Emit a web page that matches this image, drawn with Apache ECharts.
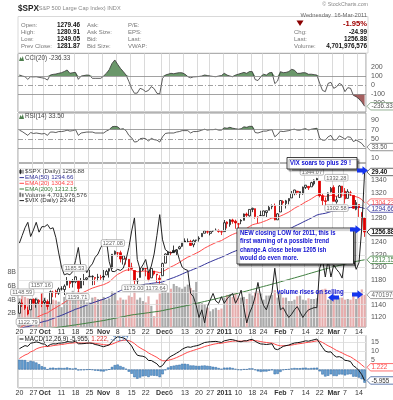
<!DOCTYPE html>
<html><head><meta charset="utf-8">
<script src="https://cdn.jsdelivr.net/npm/echarts@6/dist/echarts.min.js"></script>
<style>html,body{margin:0;padding:0;background:#fff}#c{width:393px;height:400px}</style>
</head><body><div id="c"></div>
<script>
const dates = ["2010-09-20","2010-09-21","2010-09-22","2010-09-23","2010-09-24","2010-09-27","2010-09-28","2010-09-29","2010-09-30",
"2010-10-01","2010-10-04","2010-10-05","2010-10-06","2010-10-07","2010-10-08","2010-10-11","2010-10-12","2010-10-13","2010-10-14","2010-10-15","2010-10-18","2010-10-19","2010-10-20","2010-10-21","2010-10-22","2010-10-25","2010-10-26","2010-10-27","2010-10-28","2010-10-29",
"2010-11-01","2010-11-02","2010-11-03","2010-11-04","2010-11-05","2010-11-08","2010-11-09","2010-11-10","2010-11-11","2010-11-12","2010-11-15","2010-11-16","2010-11-17","2010-11-18","2010-11-19","2010-11-22","2010-11-23","2010-11-24","2010-11-26","2010-11-29","2010-11-30",
"2010-12-01","2010-12-02","2010-12-03","2010-12-06","2010-12-07","2010-12-08","2010-12-09","2010-12-10","2010-12-13","2010-12-14","2010-12-15","2010-12-16","2010-12-17","2010-12-20","2010-12-21","2010-12-22","2010-12-23","2010-12-27","2010-12-28","2010-12-29","2010-12-30","2010-12-31",
"2011-01-03","2011-01-04","2011-01-05","2011-01-06","2011-01-07","2011-01-10","2011-01-11","2011-01-12","2011-01-13","2011-01-14","2011-01-18","2011-01-19","2011-01-20","2011-01-21","2011-01-24","2011-01-25","2011-01-26","2011-01-27","2011-01-28","2011-01-31",
"2011-02-01","2011-02-02","2011-02-03","2011-02-04","2011-02-07","2011-02-08","2011-02-09","2011-02-10","2011-02-11","2011-02-14","2011-02-15","2011-02-16","2011-02-17","2011-02-18","2011-02-22","2011-02-23","2011-02-24","2011-02-25","2011-02-28",
"2011-03-01","2011-03-02","2011-03-03","2011-03-04","2011-03-07","2011-03-08","2011-03-09","2011-03-10","2011-03-11","2011-03-14","2011-03-15","2011-03-16"];
const tickIdx  = [0,5,9,15,20,25,30,35,40,45,51,54,59,64,68,73,78,83,87,93,97,102,107,112,116,121];
const tickText = ["20","27","Oct","11","18","25","Nov","8","15","22","Dec","6","13","20","27","2011","10","18","24","Feb","7","14","22","Mar","7","14"];
const priceGridLines = [1120,1140,1160,1180,1200,1220,1240,1260,1280,1300,1320,1340,1360];

const opens = [1126.1,1142.8,1139.5,1131.1,1131.7,1148.6,1142.3,1146.4,1145.0,
1143.5,1144.9,1140.7,1159.8,1161.6,1158.4,1165.3,1164.3,1171.3,1177.8,1177.5,1176.8,1178.6,1166.7,1179.6,1180.7,1184.7,1184.9,1183.8,1184.5,1183.9,
1185.7,1187.9,1193.8,1198.3,1221.2,1223.2,1223.6,1213.1,1213.0,1213.0,1200.4,1194.8,1178.3,1183.8,1196.1,1198.1,1192.5,1183.1,1194.2,1189.1,1182.6,
1186.6,1206.8,1219.9,1223.9,1227.3,1225.0,1230.1,1233.9,1242.5,1241.8,1241.6,1236.3,1243.6,1245.8,1249.4,1254.9,1257.5,1254.7,1259.1,1259.4,1259.4,1256.8,
1257.6,1272.9,1268.8,1276.3,1274.4,1270.0,1275.6,1275.7,1285.8,1282.9,1293.2,1294.5,1280.9,1283.6,1283.3,1288.2,1291.9,1297.5,1299.6,1276.5,
1289.1,1305.9,1302.8,1307.0,1311.8,1318.8,1322.5,1318.1,1318.7,1328.7,1330.4,1329.6,1334.4,1340.4,1338.9,1315.4,1307.3,1307.3,1321.6,
1328.6,1305.5,1312.4,1330.7,1322.7,1311.1,1319.9,1315.7,1293.4,1301.2,1288.5,1279.5];
const highs = [1144.9,1148.6,1140.5,1136.8,1148.9,1149.9,1150.0,1148.6,1157.2,
1150.3,1148.2,1162.8,1162.3,1163.9,1167.7,1169.6,1172.6,1184.4,1178.9,1181.2,1185.5,1178.6,1182.9,1189.4,1183.9,1196.1,1187.1,1183.8,1189.5,1187.9,
1195.8,1196.1,1198.3,1221.3,1227.1,1224.6,1226.8,1218.8,1215.5,1213.0,1207.4,1194.8,1182.5,1198.7,1200.0,1198.9,1192.5,1198.9,1194.2,1189.1,1187.4,
1207.6,1222.5,1225.6,1225.7,1235.1,1228.9,1234.6,1240.4,1246.7,1246.5,1244.3,1245.0,1244.3,1250.0,1255.0,1259.4,1260.0,1258.6,1260.0,1262.6,1261.1,1260.0,
1276.2,1274.1,1277.6,1278.2,1276.8,1271.5,1277.6,1286.6,1288.2,1293.3,1296.1,1294.6,1282.2,1291.2,1291.3,1291.3,1299.7,1301.3,1302.7,1287.2,
1308.0,1308.0,1308.6,1311.0,1322.9,1324.9,1323.3,1322.0,1330.0,1332.6,1330.4,1337.8,1341.5,1344.1,1338.9,1318.8,1312.4,1320.6,1329.4,
1332.1,1314.4,1332.3,1331.1,1327.7,1325.8,1323.2,1315.7,1308.4,1301.2,1288.5,1280.9];
const lows = [1126.1,1136.2,1131.6,1122.8,1131.7,1141.7,1135.1,1140.6,1136.1,
1139.4,1131.9,1140.7,1152.0,1151.4,1155.7,1162.9,1155.5,1171.3,1166.7,1167.6,1174.6,1159.7,1166.7,1171.2,1178.4,1184.7,1171.2,1171.6,1177.7,1179.8,
1177.7,1187.9,1183.6,1198.3,1220.3,1217.1,1208.0,1204.5,1204.5,1194.1,1196.8,1173.0,1173.2,1183.8,1194.1,1185.6,1177.7,1183.1,1186.9,1175.7,1173.6,
1186.6,1206.8,1219.5,1218.8,1223.2,1219.3,1228.8,1232.6,1240.2,1239.7,1234.6,1232.4,1239.2,1241.5,1249.4,1254.9,1254.2,1251.5,1256.8,1258.5,1255.8,1252.0,
1257.6,1262.7,1265.4,1270.3,1262.2,1262.6,1269.6,1275.7,1281.0,1281.8,1288.9,1278.3,1271.3,1283.1,1283.3,1281.1,1291.9,1293.6,1275.9,1276.5,
1289.1,1301.0,1294.8,1301.4,1311.8,1316.1,1317.0,1311.6,1316.8,1326.1,1324.6,1329.6,1331.6,1338.9,1312.7,1299.6,1294.3,1307.3,1320.6,
1306.3,1302.6,1312.4,1312.6,1302.8,1310.8,1314.8,1294.3,1291.9,1281.2,1261.1,1249.1];
const closes = [1142.71,1139.78,1134.28,1124.83,1148.67,1142.16,1147.70,1144.73,1141.20,
1146.24,1137.03,1160.75,1159.97,1158.06,1165.15,1165.32,1169.77,1178.10,1173.81,1176.19,1184.71,1165.90,1178.17,1180.26,1183.08,1185.62,1185.64,1182.45,1183.78,1183.26,
1184.38,1193.57,1197.96,1221.06,1225.85,1223.25,1213.40,1218.71,1213.54,1199.21,1197.75,1178.34,1178.59,1196.69,1199.73,1197.84,1180.73,1198.35,1189.40,1187.76,1180.55,
1206.07,1221.53,1224.71,1223.12,1223.75,1228.28,1233.00,1240.40,1240.46,1241.59,1235.23,1242.87,1243.91,1247.08,1254.60,1258.84,1256.77,1257.54,1258.51,1259.78,1257.88,1257.64,
1271.87,1270.20,1276.56,1273.85,1271.50,1269.75,1274.48,1285.96,1283.76,1293.24,1295.02,1281.92,1280.26,1283.35,1290.84,1291.18,1296.63,1299.54,1276.34,1286.12,
1307.59,1304.03,1307.10,1310.87,1319.05,1324.57,1320.88,1321.87,1329.15,1332.32,1328.01,1336.32,1340.43,1343.01,1315.44,1307.40,1306.10,1319.88,1327.22,
1306.33,1308.44,1330.97,1321.15,1310.13,1321.82,1320.02,1295.11,1304.28,1296.39,1281.87,1256.88];
const prevCloseBefore = 1125.59;
const volumeB = [4.2,4.6,4.4,4.2,4.0,3.4,4.3,4.0,5.0,
4.3,3.6,4.1,4.0,3.9,3.7,2.9,4.4,5.0,4.8,5.3,4.5,5.3,4.9,4.5,3.6,3.6,4.3,4.4,4.1,4.1,
4.4,4.0,4.2,5.2,5.0,3.9,4.3,4.0,4.0,4.6,4.4,5.4,4.0,4.3,3.8,3.6,4.5,3.1,1.6,4.0,4.9,
6.4,5.8,5.0,5.6,6.3,6.0,5.8,5.6,5.9,6.2,5.7,5.4,6.6,3.6,3.5,3.3,2.8,2.3,2.6,2.8,2.5,2.7,
4.3,4.7,4.8,4.4,4.9,4.3,4.3,4.4,4.1,4.9,4.6,5.1,5.2,4.9,4.0,4.6,4.6,4.7,5.4,4.3,
5.0,4.3,4.3,3.8,3.8,4.0,4.5,4.6,4.0,3.9,4.2,4.1,4.1,4.2,5.3,5.5,5.6,4.0,4.3,
4.7,4.5,4.3,4.3,4.0,4.1,4.0,4.7,4.1,4.3,5.5,4.7];
const vix = [22.9,23.6,24.3,24.8,23.5,24.1,24.8,23.9,24.4,
24.4,24.6,24.2,24.3,23.4,22.0,20.7,20.0,20.1,20.0,20.3,21.3,22.5,20.6,20.8,20.2,20.7,21.0,21.6,21.9,22.5,
22.9,23.2,21.2,20.3,20.3,20.5,20.4,20.6,21.4,22.5,24.0,25.2,21.4,20.5,20.9,21.4,20.2,20.8,21.9,23.6,25.5,
23.2,22.3,22.1,22.0,22.1,22.3,21.4,20.7,20.5,20.4,18.3,18.0,17.2,16.1,16.8,15.6,17.1,17.7,18.3,17.6,17.4,18.0,
17.4,17.8,18.1,18.3,17.4,17.9,18.6,17.0,15.6,16.5,17.1,18.0,19.3,18.0,17.2,16.8,17.6,18.4,20.6,18.6,
16.8,17.0,16.5,16.1,16.4,16.8,17.1,16.6,16.1,16.5,16.8,16.9,17.0,17.0,20.6,21.4,19.8,21.4,19.8,
20.9,20.5,20.2,19.7,21.6,21.1,21.5,21.4,20.5,21.1,24.3,29.4];
const ema20 = [1101.4,1105.1,1107.9,1109.5,1113.2,1116.0,1119.0,1121.4,1123.3,
1125.5,1126.6,1129.8,1132.7,1135.1,1138.0,1140.6,1143.3,1146.7,1149.2,1151.8,1154.9,1156.0,1158.1,1160.2,1162.4,1164.6,1166.6,1168.1,1169.6,1170.9,
1172.2,1174.2,1176.5,1180.7,1185.0,1188.7,1191.0,1193.6,1195.5,1195.9,1196.1,1194.4,1192.9,1193.2,1193.9,1194.2,1192.9,1193.5,1193.1,1192.6,1191.4,
1192.8,1195.5,1198.3,1200.7,1202.9,1205.3,1207.9,1211.0,1213.8,1216.5,1218.3,1220.6,1222.8,1225.1,1227.9,1230.9,1233.3,1235.6,1237.8,1239.9,1241.6,1243.1,
1245.9,1248.2,1250.9,1253.1,1254.8,1256.2,1258.0,1260.6,1262.8,1265.7,1268.5,1269.8,1270.8,1272.0,1273.8,1275.4,1277.5,1279.6,1279.3,1279.9,
1282.6,1284.6,1286.8,1289.0,1291.9,1295.0,1297.5,1299.8,1302.6,1305.4,1307.6,1310.3,1313.2,1316.0,1316.0,1315.2,1314.3,1314.8,1316.0,
1315.1,1314.5,1316.0,1316.5,1315.9,1316.5,1316.8,1314.7,1313.7,1312.1,1309.2,1304.23];
const ema50 = [1101.0,1102.5,1103.8,1104.6,1106.3,1107.7,1109.3,1110.7,1111.9,
1113.2,1114.1,1116.0,1117.7,1119.3,1121.1,1122.8,1124.6,1126.7,1128.6,1130.5,1132.6,1133.9,1135.6,1137.4,1139.2,1141.0,1142.7,1144.3,1145.8,1147.3,
1148.7,1150.5,1152.4,1155.1,1157.8,1160.4,1162.5,1164.7,1166.6,1167.9,1169.0,1169.4,1169.8,1170.8,1172.0,1173.0,1173.3,1174.2,1174.8,1175.3,1175.5,
1176.7,1178.5,1180.3,1182.0,1183.6,1185.4,1187.2,1189.3,1191.3,1193.3,1194.9,1196.8,1198.6,1200.5,1202.6,1204.8,1206.9,1208.9,1210.8,1212.7,1214.5,1216.2,
1218.4,1220.4,1222.6,1224.6,1226.4,1228.1,1229.9,1232.1,1234.1,1236.5,1238.7,1240.4,1242.0,1243.6,1245.5,1247.3,1249.2,1251.2,1252.2,1253.5,
1255.6,1257.5,1259.5,1261.5,1263.7,1266.1,1268.3,1270.4,1272.7,1275.0,1277.1,1279.4,1281.8,1284.2,1285.4,1286.3,1287.0,1288.3,1289.8,
1290.5,1291.2,1292.7,1293.8,1294.5,1295.6,1296.5,1296.5,1296.8,1296.8,1296.2,1294.66];
const ema200 = [1097.0,1097.4,1097.8,1098.2,1098.6,1099.0,1099.4,1099.8,1100.2,
1100.6,1101.0,1101.6,1102.3,1102.9,1103.6,1104.2,1104.8,1105.5,1106.1,1106.8,1107.4,1108.1,1108.8,1109.5,1110.2,1110.9,1111.6,1112.3,1113.0,1113.7,
1114.4,1115.3,1116.2,1117.1,1118.0,1118.9,1119.8,1120.7,1121.6,1122.5,1123.4,1124.0,1124.6,1125.2,1125.8,1126.4,1127.0,1127.7,1128.3,1128.9,1129.5,
1130.4,1131.4,1132.3,1133.2,1134.1,1135.1,1136.0,1136.9,1137.8,1138.8,1139.8,1140.9,1141.9,1143.0,1144.1,1145.1,1146.2,1147.2,1148.3,1149.4,1150.5,1151.7,
1152.8,1154.0,1155.1,1156.2,1157.4,1158.5,1159.7,1160.8,1162.0,1163.2,1164.4,1165.6,1166.9,1168.1,1169.3,1170.5,1171.7,1172.9,1174.2,1175.4,
1176.7,1178.0,1179.2,1180.5,1181.8,1183.0,1184.3,1185.6,1186.9,1188.2,1189.6,1190.9,1192.2,1193.5,1194.8,1196.2,1197.5,1198.8,1199.9,
1201.0,1202.0,1203.1,1204.2,1205.3,1206.4,1207.4,1208.5,1209.6,1210.5,1211.4,1212.15];
const cci = [111,100,92,63,92,90,92,85,80,
74,55,111,118,122,130,137,150,167,130,137,140,63,100,105,111,108,74,74,74,74,
100,130,170,240,278,230,185,150,111,40,-40,-92,-90,-37,-50,-74,-60,-18,-40,-92,-100,
74,111,120,130,125,132,137,135,120,92,80,90,92,95,100,111,105,100,95,92,100,105,
130,110,100,92,110,120,130,140,130,150,148,60,50,90,120,110,135,140,15,45,
148,137,140,150,174,165,130,130,137,135,119,120,115,111,18,-60,-74,18,30,
-37,-20,18,0,-74,-30,-37,-115,-130,-155,-190,-236.33];
const rsi = [69,66,62,58,64,62,63,62,61,
62,58,65,65,64,66,66,67,69,67,68,70,58,63,64,65,65,65,63,63,63,
63,67,70,76,77,76,71,72,68,58,53,44,45,51,52,51,46,52,49,48,44,
55,62,63,63,63,65,66,68,68,68,63,66,66,67,69,71,69,70,70,71,69,69,
74,73,75,73,72,71,72,76,75,77,77,64,63,65,67,67,69,70,55,60,
67,66,67,68,70,71,69,69,71,72,69,71,72,73,52,48,48,55,58,
48,49,57,54,50,55,54,45,48,45,41,33.5];
const macd = [11.3,12.2,13.0,12.6,14.3,14.6,15.0,14.7,14.0,
13.8,12.6,13.6,14.0,13.9,14.3,14.4,14.6,15.2,15.0,14.9,15.4,14.0,14.0,14.1,14.3,14.4,14.2,13.6,13.3,12.8,
12.4,12.9,13.4,15.2,16.8,17.8,17.5,17.2,16.4,14.5,12.8,9.9,7.8,7.4,7.2,6.6,4.9,4.9,4.0,3.1,1.3,
2.2,4.3,6.1,7.2,8.0,8.9,9.8,11.0,11.8,12.3,12.1,12.6,12.9,13.3,14.0,14.7,14.9,15.1,15.2,15.3,15.0,14.7,
15.6,15.9,16.3,16.2,15.8,15.3,15.1,15.6,15.6,16.2,16.4,15.4,14.5,13.9,13.8,13.6,13.8,14.0,11.2,10.8,
11.6,12.6,13.0,13.3,13.9,14.4,14.6,14.8,15.2,15.6,15.4,15.8,16.2,16.6,14.4,12.0,10.0,9.5,9.6,
7.8,6.8,7.0,6.3,5.0,4.8,4.3,2.0,1.0,-0.6,-2.8,-5.955];
const signal = [6.0,7.0,7.9,8.5,9.6,10.2,11.2,11.8,12.2,
12.5,12.5,12.7,13.0,13.2,13.4,13.6,13.8,14.1,14.3,14.4,14.6,14.5,14.4,14.4,14.4,14.4,14.4,14.2,14.0,13.8,
13.5,13.4,13.4,13.8,14.4,15.1,15.6,15.9,16.0,15.7,15.1,14.1,12.8,11.8,10.9,10.1,9.0,8.2,7.4,6.6,5.5,
4.8,4.7,5.0,5.4,5.9,6.5,7.2,7.9,8.7,9.4,9.9,10.4,10.9,11.4,11.9,12.5,12.9,13.3,13.7,14.0,14.2,14.3,
14.6,14.9,15.2,15.4,15.5,15.5,15.4,15.5,15.5,15.6,15.8,15.7,15.5,15.2,14.9,14.7,14.5,14.4,13.8,13.2,
12.9,12.9,13.0,13.1,13.3,13.6,13.9,14.1,14.3,14.6,14.8,15.0,15.3,15.6,15.4,14.7,13.8,12.9,12.2,
11.3,10.4,9.7,9.0,8.2,7.5,6.9,5.9,4.9,3.8,2.5,1.222];
const hist = [5.3,5.2,5.1,4.1,4.7,4.4,3.8,2.9,1.8,
1.3,0.1,0.9,1.0,0.7,0.9,0.8,0.8,1.1,0.7,0.5,0.8,-0.5,-0.4,-0.3,-0.1,0.0,-0.2,-0.6,-0.7,-1.0,
-1.1,-0.5,0.0,1.4,2.4,2.7,1.9,1.3,0.4,-1.2,-2.3,-4.2,-5.0,-4.4,-3.7,-3.5,-4.1,-3.3,-3.4,-3.5,-4.2,
-2.6,-0.4,1.1,1.8,2.1,2.4,2.6,3.1,3.1,2.9,2.2,2.2,2.0,1.9,2.1,2.2,2.0,1.8,1.5,1.3,0.8,0.4,
1.0,1.0,1.1,0.8,0.3,-0.2,-0.3,0.1,0.1,0.6,0.6,-0.3,-1.0,-1.3,-1.1,-1.1,-0.7,-0.4,-2.6,-2.4,
-1.3,-0.3,0.0,0.2,0.6,0.8,0.7,0.7,0.9,1.0,0.6,0.8,0.9,1.0,-1.0,-2.7,-3.8,-3.4,-2.6,
-3.5,-3.6,-2.7,-2.7,-3.2,-2.7,-2.6,-3.9,-3.9,-4.4,-5.3,-7.177];

// ---------------- chart ----------------
const FF = '"Liberation Sans", Arial, sans-serif';
const chart = echarts.init(document.getElementById('c'));
const tickSet = new Set(tickIdx);
const tickFn = (i) => tickSet.has(i);
function tickLabel(i) {
  const k = tickIdx.indexOf(i); if (k < 0) return '';
  const t = tickText[k];
  return (isNaN(+t) || t === '2011') ? '{b|' + t + '}' : t;
}
const LEFT = 18, RIGHT = 27;
function xAx(g, show) {
  return { type: 'category', gridIndex: g, data: dates, boundaryGap: true,
    axisLine: { show: false }, axisTick: { show: false, alignWithLabel: true, interval: tickFn },
    axisLabel: { show: show, interval: tickFn, formatter: (v, i) => tickLabel(i), fontSize: 7, color: '#333', margin: 2, fontFamily: FF,
      rich: { b: { fontWeight: 'bold', fontSize: 7, color: '#333', fontFamily: FF } } },
    splitLine: { show: true, interval: tickFn, lineStyle: { color: '#dadada', width: 1 } } };
}
const yLab = (fn) => ({ fontSize: 7, color: '#555', margin: 5, fontFamily: FF, formatter: fn });
const gridBase = { left: LEFT, right: RIGHT, show: true, borderColor: '#9a9a9a', borderWidth: 1 };
const ml = (vals, type, color) => vals.map(v => ({ yAxis: v, lineStyle: { type: type, color: color, width: 0.8 } }));

const candleData = closes.map((c, i) => {
  const o = opens[i], pc = i ? closes[i - 1] : prevCloseBefore;
  const col = c >= pc ? '#111111' : '#e00000';
  const fill = c < o ? col : '#ffffff';
  return { value: [o, c, lows[i], highs[i]], itemStyle: { color: fill, color0: fill, borderColor: col, borderColor0: col, borderWidth: 0.8 } };
});
const volData = volumeB.map((v, i) => {
  const pc = i ? closes[i - 1] : prevCloseBefore;
  return { value: v, itemStyle: { color: closes[i] >= pc ? '#ababab' : '#e7adad' } };
});

const option = {
  animation: false, backgroundColor: '#fff',
  grid: [
    Object.assign({ top: 53.5, height: 58.5 }, gridBase),
    Object.assign({ top: 113, height: 50 }, gridBase),
    Object.assign({ top: 163, height: 164 }, gridBase),
    Object.assign({ top: 335.5, height: 52.4 }, gridBase)
  ],
  xAxis: [xAx(0, false), xAx(1, false), xAx(2, true), xAx(3, true)],
  yAxis: [
    { type: 'value', gridIndex: 0, position: 'right', min: -300, max: 350, interval: 100,
      axisLabel: yLab(v => (Math.abs(v) <= 200 ? String(v) : '')), splitLine: { show: false }, axisLine: { show: false }, axisTick: { show: false } },
    { type: 'value', gridIndex: 1, position: 'right', min: 0, max: 105, interval: 10,
      axisLabel: yLab(v => ([10, 30, 50, 70, 90].includes(v) ? String(v) : '')), splitLine: { show: false }, axisLine: { show: false }, axisTick: { show: false } },
    { type: 'value', gridIndex: 2, position: 'right', min: 1104, max: 1368, interval: 4,
      axisLabel: yLab(v => (v % 20 === 0 && v >= 1120 && v <= 1340 && ![1300, 1260, 1160].includes(v) ? String(v) : '')),
      splitLine: { show: false }, axisLine: { show: false }, axisTick: { show: false } },
    { type: 'value', gridIndex: 2, position: 'left', min: 0, max: 24, interval: 2,
      axisLabel: Object.assign(yLab(v => ([2, 4, 6, 8].includes(v) ? v + 'B' : '')), { margin: 2 }), splitLine: { show: false }, axisLine: { show: false }, axisTick: { show: false } },
    { type: 'value', gridIndex: 2, show: false, min: 15.23, max: 30.22 },
    { type: 'value', gridIndex: 3, position: 'right', min: -10, max: 18.5, interval: 5,
      axisLabel: yLab(v => ([5, 10, 15].includes(v) ? String(v) : '')),
      splitLine: { show: true, lineStyle: { color: '#e2e2e2', width: 1 } }, axisLine: { show: false }, axisTick: { show: false } }
  ],
  series: [
    // CCI
    { type: 'line', xAxisIndex: 0, yAxisIndex: 0, data: cci.map(v => Math.max(v, 100)), symbol: 'none', silent: true,
      lineStyle: { width: 0 }, areaStyle: { origin: 100, color: '#6a976a', opacity: 1 }, z: 2 },
    { type: 'line', xAxisIndex: 0, yAxisIndex: 0, data: cci.map(v => Math.min(v, -100)), symbol: 'none', silent: true,
      lineStyle: { width: 0 }, areaStyle: { origin: -100, color: '#a45f5f', opacity: 1 }, z: 2 },
    { type: 'line', xAxisIndex: 0, yAxisIndex: 0, data: cci, symbol: 'none', lineStyle: { color: '#333', width: 0.8 }, z: 4,
      markLine: { silent: true, symbol: 'none', label: { show: false },
        data: ml([100, -100], 'solid', '#8a8a8a').concat(ml([0], [5, 2, 1, 2], '#8a8a8a')) } },
    // RSI
    { type: 'line', xAxisIndex: 1, yAxisIndex: 1, data: rsi.map(v => Math.max(v, 70)), symbol: 'none', silent: true,
      lineStyle: { width: 0 }, areaStyle: { origin: 70, color: '#6a976a', opacity: 1 }, z: 2 },
    { type: 'line', xAxisIndex: 1, yAxisIndex: 1, data: rsi, symbol: 'none', lineStyle: { color: '#333', width: 0.8 }, z: 4,
      markLine: { silent: true, symbol: 'none', label: { show: false },
        data: ml([70, 30], 'solid', '#8a8a8a').concat(ml([50], [5, 2, 1, 2], '#8a8a8a')) } },
    // price grid lines
    { type: 'line', xAxisIndex: 2, yAxisIndex: 2, data: [], symbol: 'none', z: 0, silent: true,
      markLine: { silent: true, symbol: 'none', label: { show: false }, data: ml(priceGridLines, 'solid', '#e0e0e0') } },
    // Volume
    { type: 'bar', xAxisIndex: 2, yAxisIndex: 3, data: volData, barCategoryGap: '22%', z: 1 },
    // EMAs
    { type: 'line', xAxisIndex: 2, yAxisIndex: 2, data: ema200, symbol: 'none', lineStyle: { color: '#3f7f3f', width: 1 }, z: 3 },
    { type: 'line', xAxisIndex: 2, yAxisIndex: 2, data: ema50, symbol: 'none', lineStyle: { color: '#34349a', width: 1 }, z: 3 },
    { type: 'line', xAxisIndex: 2, yAxisIndex: 2, data: ema20, symbol: 'none', lineStyle: { color: '#ff4a4a', width: 1 }, z: 3 },
    // Candles
    { type: 'candlestick', xAxisIndex: 2, yAxisIndex: 2, data: candleData, barWidth: '72%', z: 4 },
    // VIX
    { type: 'line', xAxisIndex: 2, yAxisIndex: 4, data: vix, symbol: 'none', lineStyle: { color: '#222', width: 1 }, z: 5 },
    // MACD
    { type: 'bar', xAxisIndex: 3, yAxisIndex: 5, data: hist, barCategoryGap: '12%',
      itemStyle: { color: '#6aa3d4', borderColor: '#2a64a0', borderWidth: 0.5 }, z: 2 },
    { type: 'line', xAxisIndex: 3, yAxisIndex: 5, data: signal, symbol: 'none', lineStyle: { color: '#ff4a4a', width: 1 }, z: 3 },
    { type: 'line', xAxisIndex: 3, yAxisIndex: 5, data: macd, symbol: 'none', lineStyle: { color: '#111', width: 1 }, z: 4 }
  ]
};
chart.setOption(option);

// ---------------- annotations ----------------
const G = [];
function font(px, bold) { return (bold ? 'bold ' : '') + px + 'px ' + FF; }
function txt(x, y, text, o) {
  o = o || {};
  const st = { text: text, x: 0, y: 0, fill: o.fill || '#555', font: o.font || font(6.5),
    textAlign: o.align || 'left', textVerticalAlign: 'middle', align: o.align || 'left', verticalAlign: 'middle' };
  if (o.rich) st.rich = o.rich;
  G.push({ type: 'text', x: x, y: y, scaleX: o.sx || 1, z: 110, silent: true, style: st });
}
function rect(x, y, w, h, fill, stroke, lw, z, shadow) {
  const s = { fill: fill, stroke: stroke, lineWidth: lw || 1 };
  if (shadow) { s.shadowColor = 'rgba(0,0,0,0.45)'; s.shadowOffsetX = 2; s.shadowOffsetY = 2; s.shadowBlur = 1; }
  G.push({ type: 'rect', z: z || 105, silent: true, shape: { x: x, y: y, width: w, height: h }, style: s });
}
function line(x1, y1, x2, y2, color, w) {
  G.push({ type: 'line', z: 106, silent: true, shape: { x1: x1, y1: y1, x2: x2, y2: y2 }, style: { stroke: color, lineWidth: w || 1 } });
}
function tag(y, text, stroke, color, bold) {
  const x0 = 367, h = 7.4, w = 27;
  G.push({ type: 'polygon', z: 107, silent: true,
    shape: { points: [[x0, y], [x0 + 3.5, y - h / 2], [x0 + w, y - h / 2], [x0 + w, y + h / 2], [x0 + 3.5, y + h / 2]] },
    style: { fill: '#fff', stroke: stroke, lineWidth: 0.8 } });
  txt(x0 + 4.5, y + 0.3, text, { fill: color, font: font(6.3, bold) });
}
function vbox(cx, cy, text) {
  const w = text.length * 3.05 + 2, h = 6.6;
  G.push({ type: 'rect', z: 107, silent: true, shape: { x: cx - w / 2, y: cy - h / 2, width: w, height: h, r: 1.5 },
    style: { fill: '#fff', stroke: '#9a9a9a', lineWidth: 0.7 } });
  txt(cx, cy + 0.3, text, { fill: '#666', font: font(5.6), align: 'center' });
}
function arrow(xTip, y, dir) {
  const d = dir, L = 11, hw = 4.2, sw = 1.9, hl = 5.5;
  const p = [[0, -sw], [L - hl, -sw], [L - hl, -hw], [L, 0], [L - hl, hw], [L - hl, sw], [0, sw]]
    .map(q => [xTip - d * (L - q[0]), y + q[1]]);
  G.push({ type: 'polygon', z: 112, silent: true, shape: { points: p }, style: { fill: '#1535ee' } });
}
const px = (xi, yi, i, v) => chart.convertToPixel({ xAxisIndex: xi, yAxisIndex: yi }, [i, v]);
const yOf = (yi, v) => chart.convertToPixel({ yAxisIndex: yi }, v);

// header
txt(18, 8.5, '$SPX', { fill: '#222', font: font(8.2, true) });
txt(37, 8.8, '(S&P 500 Large Cap Index) INDX', { fill: '#888', font: font(5.6) });
txt(368, 4.5, '\u00A9 StockCharts.com', { fill: '#888', font: font(5.3), align: 'right' });
rect(18, 16.5, 350, 36.5, 'rgba(0,0,0,0)', '#cfcfcf', 0.8, 100);
const rowsY = [25, 32.2, 39.4, 46.6];
['Open:', 'High:', 'Low:', 'Prev Close:'].forEach((t, k) => txt(21, rowsY[k], t, { fill: '#777', font: font(6) }));
['1279.46', '1280.91', '1249.05', '1281.87'].forEach((t, k) => txt(80, rowsY[k], t, { fill: '#111', font: font(6.4, true), align: 'right' }));
['Ask:', 'Ask Size:', 'Bid:', 'Bid Size:'].forEach((t, k) => txt(87, rowsY[k], t, { fill: '#777', font: font(6) }));
['P/E:', 'EPS:', 'Last:', 'VWAP:'].forEach((t, k) => txt(128, rowsY[k], t, { fill: '#777', font: font(6) }));
txt(367, 15, 'Wednesday  16-Mar-2011', { fill: '#666', font: font(5.8), align: 'right' });
G.push({ type: 'polygon', z: 110, silent: true, shape: { points: [[296.5, 20.5], [303.5, 20.5], [300, 26]] }, style: { fill: '#8b0000' } });
txt(367, 23.5, '-1.95%', { fill: '#a00000', font: font(7.6, true), align: 'right' });
txt(294, 32.2, 'Chg:', { fill: '#777', font: font(6) });
txt(367, 32.2, '-24.99', { fill: '#111', font: font(6.4, true), align: 'right' });
txt(294, 39.4, 'Last:', { fill: '#777', font: font(6) });
txt(367, 39.4, '1256.88', { fill: '#111', font: font(6.4, true), align: 'right' });
txt(294, 46.6, 'Volume:', { fill: '#777', font: font(6) });
txt(367, 46.6, '4,701,976,576', { fill: '#111', font: font(6.4, true), align: 'right' });

// panel titles
function mountain(x, y) {
  G.push({ type: 'polygon', z: 110, silent: true, shape: { points: [[x, y + 2.5], [x + 1.5, y - 1.5], [x + 2.7, y + 0.5], [x + 3.8, y - 2.5], [x + 5, y + 2.5]] }, style: { fill: '#4f7f4f' } });
}
mountain(19, 58.5); txt(25, 58.5, 'CCI(20) -236.33', { fill: '#444', font: font(6.3) });
mountain(19, 116.5); txt(25, 116.5, 'RSI(14) 33.50', { fill: '#444', font: font(6.3) });
line(19.5, 339, 23.5, 339, '#111', 1);
txt(24.5, 339, '{k|MACD(12,26,9) -5.955, }{r|1.222, }{b|-7.177}', { font: font(6.3),
  rich: { k: { fill: '#222', font: font(6.3) }, r: { fill: '#e03030', font: font(6.3) }, b: { fill: '#3a6fb0', font: font(6.3) } } });

// main legend
const lg = [
  [171.7, '$SPX (Daily) 1256.88', '#444', 'candle'],
  [177.6, 'EMA(50) 1294.66', '#34349a', '#34349a'],
  [183.3, 'EMA(20) 1304.23', '#ff4a4a', '#ff4a4a'],
  [189.0, 'EMA(200) 1212.15', '#3f7f3f', '#3f7f3f'],
  [194.8, 'Volume 4,701,976,576', '#444', 'vol'],
  [200.6, '$VIX (Daily) 29.40', '#333', '#222']
];
lg.forEach(r => {
  if (r[3] === 'candle') { line(20.5, r[0] - 2.5, 20.5, r[0] + 2.5, '#222', 0.8); rect(19.7, r[0] - 1.5, 1.6, 3, '#222', '#222', 0.5, 108); line(23, r[0] - 2, 23, r[0] + 2, '#222', 0.8); }
  else if (r[3] === 'vol') { rect(19.5, r[0] - 2, 1.5, 4, '#777', '#777', 0.3, 108); rect(22, r[0] - 1, 1.5, 3, '#777', '#777', 0.3, 108); }
  else line(19.5, r[0], 24, r[0], r[3], 1);
  txt(25, r[0], r[1], { fill: r[2], font: font(6.2) });
});

// data labels
[[1, 1148.6, '1148.59', 0, -7], [3, 1122.8, '1122.79', 0, 6.5], [8, 1157.2, '1157.16', -1, -8.5], [20, 1185.5, '1185.53', -1, -8.5],
 [21, 1159.7, '1159.71', -1, 4.5], [34, 1227.1, '1227.08', -2, -7.5], [41, 1173.0, '1173.00', -1, 4], [50, 1173.64, '1173.64', -4, 4],
 [106, 1344.07, '1344.07', -5, -6], [114, 1332.28, '1332.28', -3, -7.5], [113, 1302.58, '1302.58', 0, 4.5]]
 .forEach(a => { const p = px(2, 2, a[0], a[1]); vbox(p[0] + a[3], p[1] + a[4], a[2]); });

// right-side tags
tag(yOf(0, -236.33), '-236.33', '#7a9a7a', '#555');
tag(yOf(1, 33.5), '33.50', '#777', '#555');
tag(yOf(4, 29.4), '29.40', '#444', '#111', true);
tag(yOf(2, 1304.23), '1304.23', '#ff4a4a', '#ff4a4a');
tag(yOf(2, 1294.66), '1294.66', '#34349a', '#34349a');
tag(yOf(2, 1256.88), '1256.88', '#111', '#111', true);
tag(yOf(2, 1212.15), '1212.15', '#3f7f3f', '#3f7f3f');
tag(yOf(3, 4.70), '4701976576', '#888', '#666');
tag(yOf(5, 1.222), '1.222', '#ff4a4a', '#ff4a4a');
tag(yOf(5, -5.955), '-5.955', '#3a5a9a', '#333');

// annotation boxes
rect(287, 157.5, 70, 11.5, '#fff', '#111', 0.8, 109, true);
txt(290, 163.4, 'VIX soars to plus 29 !', { fill: '#1010d0', font: font(7, true), sx: 0.86 });
arrow(368, 170.5, 1);

rect(237, 228, 116.5, 36, '#fff', '#111', 0.8, 109, true);
['NEW closing LOW for 2011, this is', 'first warning of a possible trend', 'change.A close below 1205 ish', 'would do even more.']
  .forEach((t, k) => txt(240, 233 + k * 8.5, t, { fill: '#1010d0', font: font(7, true), sx: 0.84 }));
arrow(361, 229.5, 1);

txt(277, 292.5, 'volume rises on selling', { fill: '#1010d0', font: font(7, true), sx: 0.86 });
arrow(328, 297.5, -1);
arrow(363, 294.5, 1);

chart.setOption({ graphic: { elements: G } });
</script>
</body></html>
